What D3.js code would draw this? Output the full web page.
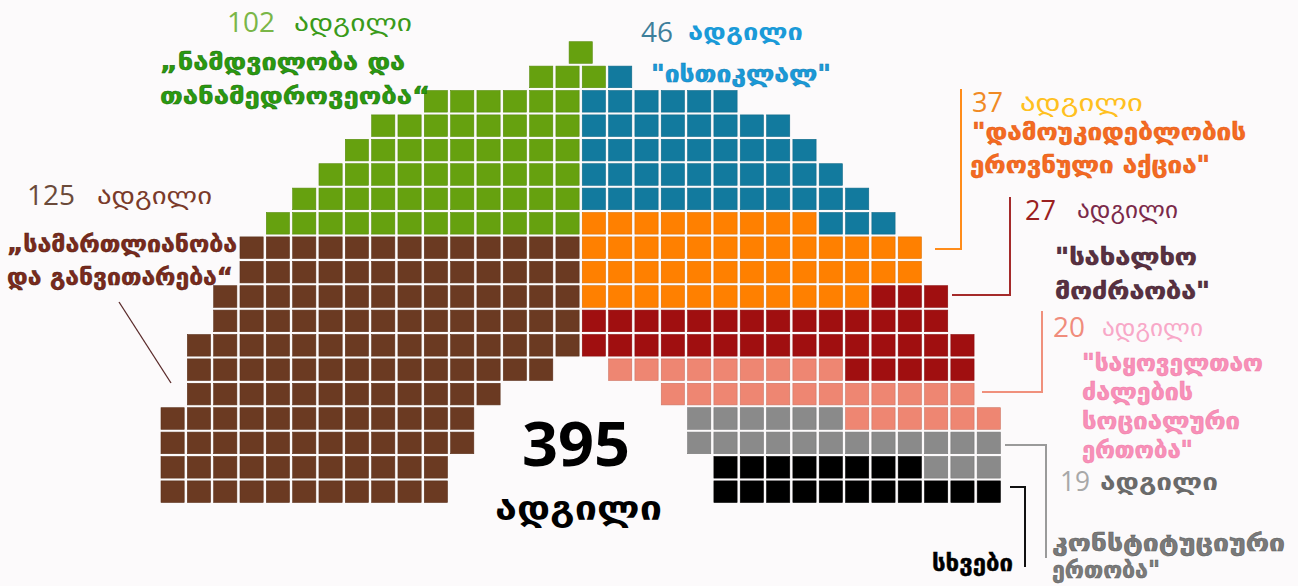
<!DOCTYPE html>
<html>
<head>
<meta charset="utf-8">
<script src="https://cdn.jsdelivr.net/npm/d3@7"></script>
<style>
  html, body { margin: 0; padding: 0; background: #fcfafb; }
  svg { display: block; }
</style>
</head>
<body>
<div id="chart"></div>
<script>
//data
var parties = ['PJD', 'PAM', 'Istiqlal', 'RNI', 'MP', 'USFP', 'UC', 'other'];
var seats = [125, 102, 46, 37, 27, 20, 19, null];
var totalSeats = 395;
var seatWord = 'ადგილი';

var partyNames = [
  ['„სამართლიანობა', 'და განვითარება“'],
  ['„ნამდვილობა და', 'თანამედროვეობა“'],
  ['"ისთიკლალ"'],
  ['"დამოუკიდებლობის', 'ეროვნული აქცია"'],
  ['"სახალხო', 'მოძრაობა"'],
  ['"საყოველთაო', 'ძალების', 'სოციალური', 'ერთობა"'],
  ['კონსტიტუციური', 'ერთობა"'],
  ['სხვები']
];

// cells of each party in the grid: [row, first column, last column]
var cellRuns = [
  [[8, 3, 15], [9, 3, 15], [10, 2, 15], [11, 2, 15], [12, 1, 15], [13, 1, 14], [14, 1, 12], [15, 0, 11], [16, 0, 11], [17, 0, 10], [18, 0, 10]],
  [[0, 15.5, 15.5], [1, 14, 16], [2, 10, 15], [3, 8, 15], [4, 7, 15], [5, 6, 15], [6, 5, 15], [7, 4, 15]],
  [[1, 17, 17], [2, 16, 21], [3, 16, 23], [4, 16, 24], [5, 16, 25], [6, 16, 26], [7, 25, 27]],
  [[7, 16, 24], [8, 16, 28], [9, 16, 28], [10, 16, 26]],
  [[10, 27, 29], [11, 16, 29], [12, 16, 30], [13, 26, 30]],
  [[13, 17, 25], [14, 19, 30], [15, 26, 31]],
  [[15, 20, 25], [16, 20, 31], [17, 29, 31]],
  [[17, 21, 28], [18, 21, 31]]
];

//dims
var width = 1298;
var height = 586;

//colors
var color = d3.scaleOrdinal()
  .domain(parties)
  .range(['#6b3a22', '#66a10f', '#127a9e', '#ff8000', '#a00f10', '#ee8672', '#8a8a8a', '#000000']);

//grid scales
var x = d3.scaleLinear().domain([0, 31]).range([161, 977.2]);
var y = d3.scaleLinear().domain([0, 18]).range([41.7, 480.9]);
var cellW = 23.2;
var cellH = 21.6;

var svg = d3.select('#chart')
  .append('svg')
  .attr('width', width)
  .attr('height', height);

svg.append('rect')
  .attr('width', width)
  .attr('height', height)
  .attr('fill', '#fcfafb');

//expand runs into cells
var cells = [];
cellRuns.forEach(function(runs, p) {
  runs.forEach(function(r) {
    for (var c = r[1]; c <= r[2]; c++) {
      cells.push({ party: parties[p], row: r[0], col: c });
    }
  });
});

svg.append('g').selectAll('rect')
  .data(cells)
  .enter()
  .append('rect')
  .attr('x', function(d) { return x(d.col); })
  .attr('y', function(d) { return y(d.row); })
  .attr('width', cellW)
  .attr('height', cellH)
  .attr('fill', function(d) { return color(d.party); })
  .attr('stroke', function(d) { return d3.color(color(d.party)).darker(0.4); })
  .attr('stroke-width', 0.6);

//labels (layout only)
var labelLayout = [
  { num: [27, 205, 48], word: [97, 204, 115], lines: [[7, 252, 230], [7, 285, 226]],
    numFill: '#6b4a3a', wordFill: '#7a3a2a', nameFill: '#7b2a1c', nameStroke: '#4a1a10', wordBold: false },
  { num: [227, 32, 48], word: [294, 31, 118], lines: [[160, 70, 245], [160, 104, 270]],
    numFill: '#7ab648', wordFill: '#3a9a1a', nameFill: '#2a9a0f', nameStroke: '#1a6a0a', wordBold: false },
  { num: [641, 42, 32], word: [688, 40, 115], lines: [[651, 82, 180]],
    numFill: '#3e7f9b', wordFill: '#1a9ad8', nameFill: '#1a9ad8', nameStroke: '#1080b8', wordBold: true },
  { num: [972, 112, 31], word: [1020, 111, 123], lines: [[972, 140, 274], [970, 173, 240]],
    numFill: '#f08a24', wordFill: '#ffc020', nameFill: '#f56a22', nameStroke: '#e05a10', wordBold: false },
  { num: [1025, 220, 31], word: [1077, 218, 101], lines: [[1055, 265, 142], [1055, 299, 155]],
    numFill: '#9b2020', wordFill: '#7b2a4a', nameFill: '#5a3040', nameStroke: '#3a2030', wordBold: false },
  { num: [1053, 337, 32], word: [1102, 336, 101], lines: [[1082, 371, 181], [1082, 400, 111], [1082, 429, 158], [1082, 458, 111]],
    numFill: '#f08c7c', wordFill: '#f8a8c8', nameFill: '#f890b8', nameStroke: '#f07aa8', wordBold: false },
  { num: [1060, 491, 30], word: [1100, 490, 118], lines: [[1052, 551, 233], [1052, 578, 108]],
    numFill: '#a8a8a8', wordFill: '#6a6a6a', nameFill: '#7a7a7a', nameStroke: '#5a5a5a', wordBold: true },
  { num: null, word: null, lines: [[932, 571, 81]],
    numFill: '#000', wordFill: '#000', nameFill: '#000', nameStroke: '#000', wordBold: true }
];

var labels = svg.append('g');

function addText(pos, txt, opts) {
  return labels.append('text')
    .attr('x', pos[0])
    .attr('y', pos[1])
    .attr('textLength', pos[2])
    .attr('lengthAdjust', 'spacingAndGlyphs')
    .attr('font-family', opts.family)
    .attr('font-size', opts.size)
    .attr('font-weight', opts.weight)
    .attr('fill', opts.fill)
    .attr('stroke', opts.stroke || 'none')
    .attr('stroke-width', opts.stroke ? 0.5 : 0)
    .text(txt);
}

labelLayout.forEach(function(l, i) {
  if (l.num) {
    addText(l.num, seats[i], { family: 'Open Sans', size: 27, weight: 400, fill: l.numFill });
  }
  if (l.word) {
    addText(l.word, seatWord, { family: 'DejaVu Sans', size: 24, weight: l.wordBold ? 700 : 400, fill: l.wordFill });
  }
  partyNames[i].forEach(function(line, j) {
    addText(l.lines[j], line, { family: 'DejaVu Sans', size: 24, weight: 700, fill: l.nameFill, stroke: l.nameStroke });
  });
});

//total in the middle
addText([522, 466, 108], totalSeats, { family: 'Open Sans', size: 60, weight: 700, fill: '#000' });
addText([495, 520, 167], seatWord, { family: 'DejaVu Sans', size: 33, weight: 700, fill: '#000' });

//leader lines
var leaders = [
  { pts: [[119, 302], [171, 383]], stroke: '#5a2a2a', w: 1.3 },
  { pts: [[935, 249], [961, 249], [961, 89]], stroke: '#ff8c1a', w: 2 },
  { pts: [[952, 295], [1010, 295], [1010, 197]], stroke: '#a52a2a', w: 2 },
  { pts: [[982, 392], [1042, 392], [1042, 311]], stroke: '#f0907c', w: 2 },
  { pts: [[1005, 445], [1046, 445], [1046, 558]], stroke: '#9a9a9a', w: 2 },
  { pts: [[1010, 487], [1025, 487], [1025, 567]], stroke: '#111111', w: 2 }
];

svg.append('g').selectAll('path')
  .data(leaders)
  .enter()
  .append('path')
  .attr('d', function(d) { return d3.line()(d.pts); })
  .attr('fill', 'none')
  .attr('stroke', function(d) { return d.stroke; })
  .attr('stroke-width', function(d) { return d.w; });
</script>
</body>
</html>
